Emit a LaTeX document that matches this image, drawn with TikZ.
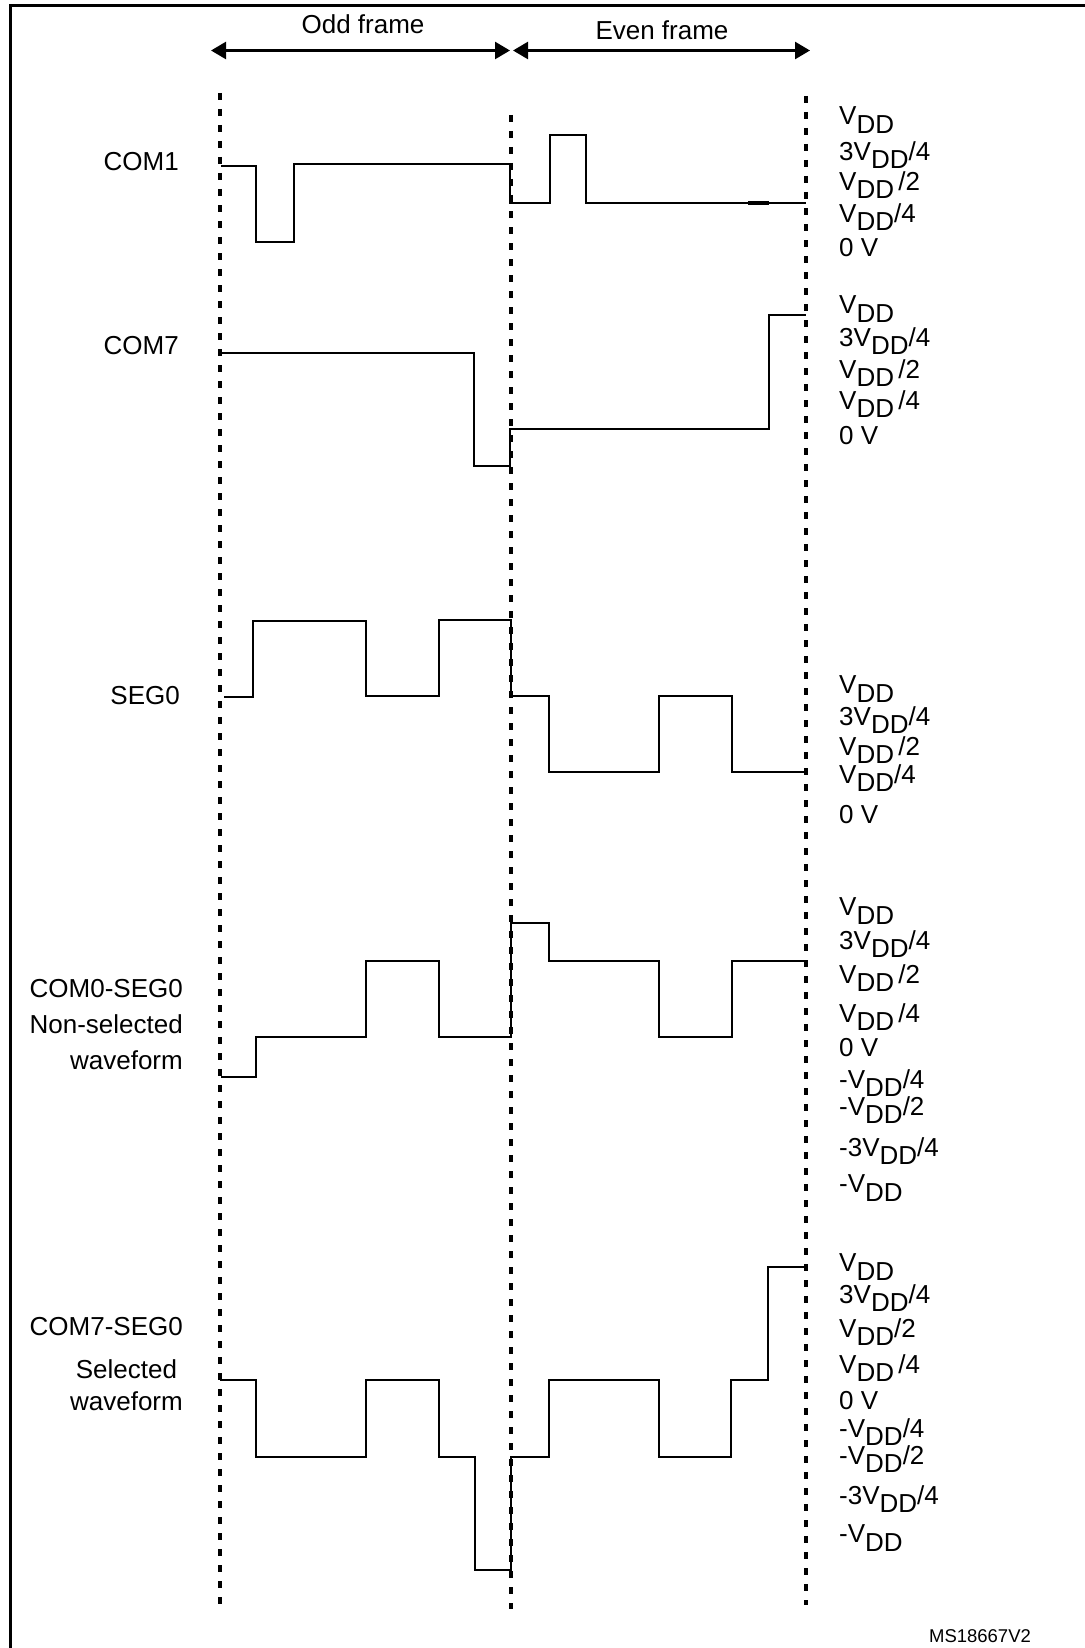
\documentclass[tikz,border=0pt]{standalone}
\usepackage{fontspec}
\setmainfont{Liberation Sans}
\usetikzlibrary{arrows.meta}

\newcommand{\Vdd}{V\raisebox{-0.6ex}{DD}}

\begin{document}
\begin{tikzpicture}[
    x=1pt, y=-1pt,
    every node/.style={font=\fontsize{26}{31}\selectfont, inner sep=0pt},
    sig/.style={anchor=east, align=right},
    lvl/.style={anchor=west},
    wave/.style={line width=2.2pt},
    divider/.style={line width=3.5pt, dash pattern=on 7pt off 9pt},
    span/.style={{Triangle[length=15pt,width=17pt]}-{Triangle[length=15pt,width=17pt]}, line width=2.5pt}
]
\useasboundingbox (0,0) rectangle (1084,1648);

\draw[line width=3pt] (10,1660) -- (10,6) -- (1090,6);

\coordinate (oddL) at (211,50.5);
\coordinate (oddR) at (510,50.5);
\coordinate (evenL) at (513,50.5);
\coordinate (evenR) at (810,50.5);
\draw[span] (oddL) -- (oddR);
\draw[span] (evenL) -- (evenR);
\node (odd) at (363,24) {Odd frame};
\node (even) at (662,30) {Even frame};

\coordinate (dL0) at (220,93);
\coordinate (dL1) at (220,1612);
\coordinate (dM0) at (511,115);
\coordinate (dM1) at (511,1609);
\coordinate (dR0) at (806,96);
\coordinate (dR1) at (806,1605);
\draw[divider] (dL0) -- (dL1);
\draw[divider] (dM0) -- (dM1);
\draw[divider] (dR0) -- (dR1);

\node[sig] (com1) at (179,162) {COM1};
\node[sig] (com7) at (179,346) {COM7};
\node[sig] (seg0) at (180,696) {SEG0};
\node[sig, font=\fontsize{26}{36}\selectfont] (nsel) at (183,1025) {COM0-SEG0\\Non-selected\\waveform};
\node[sig] (c7s0) at (183,1327) {COM7-SEG0};
\node[sig, align=center, font=\fontsize{26}{32}\selectfont] (sel) at (183,1385) {Selected\\waveform};

\draw[wave] (221,166) -| (256,242) -| (294,164) -| (510,203) -| (550,135) -| (586,203) -- (806,203);
\draw[line width=4pt] (748,203) -- (769,203);
\draw[wave] (221,353) -| (474,466) -| (510,429) -| (769,315) -- (806,315);
\draw[wave] (224,697) -| (253,621) -| (366,696) -| (439,620) -| (511,696) -| (549,772) -| (659,696) -| (732,772) -- (805,772);
\draw[wave] (221,1077) -| (256,1037) -| (366,961) -| (439,1037) -| (511,923) -| (549,961) -| (659,1037) -| (732,961) -- (805,961);
\draw[wave] (220,1380) -| (256,1457) -| (366,1380) -| (439,1457) -| (475,1570) -| (511,1457) -| (549,1380) -| (659,1457) -| (731,1380) -| (768,1267) -- (805,1267);

\node[lvl] (a1) at (839,120) {\Vdd};
\node[lvl] (a2) at (839,155) {3\Vdd/4};
\node[lvl] (a3) at (839,185) {\Vdd\,/2};
\node[lvl] (a4) at (839,217) {\Vdd/4};
\node[lvl] (a5) at (839,248) {0 V};

\node[lvl] (b1) at (839,309) {\Vdd};
\node[lvl] (b2) at (839,341) {3\Vdd/4};
\node[lvl] (b3) at (839,373) {\Vdd\,/2};
\node[lvl] (b4) at (839,404) {\Vdd\,/4};
\node[lvl] (b5) at (839,436) {0 V};

\node[lvl] (c1) at (839,689) {\Vdd};
\node[lvl] (c2) at (839,720) {3\Vdd/4};
\node[lvl] (c3) at (839,750) {\Vdd\,/2};
\node[lvl] (c4) at (839,778) {\Vdd/4};
\node[lvl] (c5) at (839,815) {0 V};

\node[lvl] (d1) at (839,911) {\Vdd};
\node[lvl] (d2) at (839,944) {3\Vdd/4};
\node[lvl] (d3) at (839,978) {\Vdd\,/2};
\node[lvl] (d4) at (839,1017) {\Vdd\,/4};
\node[lvl] (d5) at (839,1048) {0 V};
\node[lvl] (d6) at (839,1083) {-\Vdd/4};
\node[lvl] (d7) at (839,1110) {-\Vdd/2};
\node[lvl] (d8) at (839,1151) {-3\Vdd/4};
\node[lvl] (d9) at (839,1188) {-\Vdd};

\node[lvl] (e1) at (839,1267) {\Vdd};
\node[lvl] (e2) at (839,1298) {3\Vdd/4};
\node[lvl] (e3) at (839,1332) {\Vdd/2};
\node[lvl] (e4) at (839,1368) {\Vdd\,/4};
\node[lvl] (e5) at (839,1401) {0 V};
\node[lvl] (e6) at (839,1432) {-\Vdd/4};
\node[lvl] (e7) at (839,1459) {-\Vdd/2};
\node[lvl] (e8) at (839,1499) {-3\Vdd/4};
\node[lvl] (e9) at (839,1538) {-\Vdd};

\node[font=\fontsize{18.5}{22}\selectfont] (msid) at (980,1636) {MS18667V2};
\end{tikzpicture}
\end{document}
